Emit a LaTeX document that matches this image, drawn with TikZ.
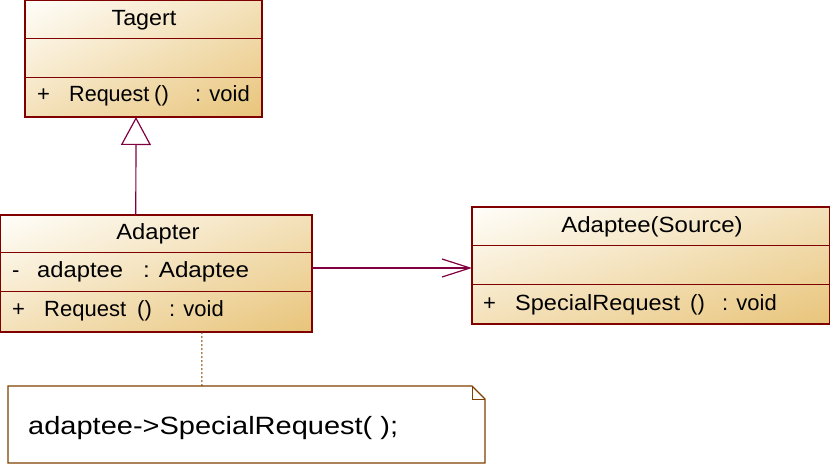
\documentclass[tikz,border=0pt]{standalone}
\usepackage{fontspec}
\setmainfont{Liberation Sans}
\usetikzlibrary{arrows.meta}
\definecolor{cBorder}{RGB}{128,0,0}
\definecolor{cLink}{RGB}{128,0,64}
\definecolor{cNote}{RGB}{128,64,0}
\newcommand{\hstretch}[2]{\scalebox{#1}[1]{#2}}
\pgfdeclarefunctionalshading{classgrad}{\pgfpointorigin}{\pgfpoint{100bp}{100bp}}{}{%
  sub 50 add 100 div
  dup 0 lt {pop 0} if
  dup 1 gt {pop 1} if
  dup -0.090 mul 1.0 add
  exch
  dup -0.227 mul 0.996 add
  exch
  -0.502 mul 0.980 add
}
\begin{document}
\begin{tikzpicture}[x=1pt,y=-1pt,
  classbox/.style={draw=cBorder, line width=1.2pt, shade, shading=classgrad, anchor=north west, inner sep=0pt, outer sep=0pt},
  divider/.style={draw=cBorder, line width=1pt},
  txt/.style={font=\fontsize{22}{26}\selectfont, inner sep=0pt, anchor=base west},
  title/.style={txt, anchor=base},
  gen/.style={draw=cLink, line width=1.2pt, -{Triangle[length=28pt, width=30pt, fill=white]}},
  assoc/.style={draw=cLink, line width=1.2pt, -{Straight Barb[length=28pt, width=18pt]}},
  notelink/.style={draw=cNote, line width=1pt, dash pattern=on 2pt off 2pt},
  notebox/.style={draw=cNote, line width=1.2pt, fill=white},
  notetxt/.style={font=\fontsize{25}{29}\selectfont, inner sep=0pt, anchor=base west}]
\useasboundingbox (0,0) rectangle (832,468);

% Tagert
\node[classbox, minimum width=237pt, minimum height=116.4pt] (tagert) at (25,0.6) {};
\draw[divider] (25,39) -- (262,39);
\draw[divider] (25,77.5) -- (262,77.5);
\node[title] (tagertT) at (144,26) {\hstretch{1.06}{Tagert}};
\node[txt] (tagertO1) at (37,102) {+};
\node[txt] (tagertO2) at (69,102) {\hstretch{0.98}{Request}};
\node[txt] (tagertO3) at (154,102) {()};
\node[txt] (tagertO4) at (195,102) {: void};

% Adapter
\node[classbox, minimum width=311.2pt, minimum height=117pt] (adapter) at (0.8,215) {};
\draw[divider] (0.8,252.5) -- (312,252.5);
\draw[divider] (0.8,291.5) -- (312,291.5);
\node[title] (adapterT) at (158,239) {\hstretch{1.08}{Adapter}};
\node[txt] (adapterA1) at (12,277) {-};
\node[txt] (adapterA2) at (37,277) {\hstretch{1.08}{adaptee}};
\node[txt] (adapterA3) at (143,277) {\hstretch{1.1}{: Adaptee}};
\node[txt] (adapterO1) at (12,316) {+};
\node[txt] (adapterO2) at (44,316) {Request};
\node[txt] (adapterO3) at (137,316) {()};
\node[txt] (adapterO4) at (169,316) {: void};

% Adaptee
\node[classbox, minimum width=357.5pt, minimum height=117pt] (adaptee) at (472,207) {};
\draw[divider] (472,245) -- (829.5,245);
\draw[divider] (472,284.5) -- (829.5,284.5);
\node[title] (adapteeT) at (652,232) {\hstretch{1.09}{Adaptee(Source)}};
\node[txt] (adapteeO1) at (483,310) {+};
\node[txt] (adapteeO2) at (515,310) {\hstretch{1.07}{SpecialRequest}};
\node[txt] (adapteeO3) at (690,310) {()};
\node[txt] (adapteeO4) at (722,310) {: void};

% Note
\node[minimum width=477pt, minimum height=77pt, anchor=north west, inner sep=0pt, outer sep=0pt] (note) at (8,386) {};
\draw[notebox] (note.north west) -- ([xshift=-13pt]note.north east) -- ([yshift=-13pt]note.north east) -- (note.south east) -- (note.south west) -- cycle;
\draw[draw=cNote, line width=1pt] ([xshift=-13pt]note.north east) |- ([yshift=-13pt]note.north east);
\node[notetxt] (noteT) at (28,434) {\hstretch{1.16}{adaptee->SpecialRequest( );}};

% Connectors
\draw[gen] ([xshift=135pt]adapter.north west) -- ([xshift=111pt]tagert.south west);
\draw[assoc] ([yshift=-53pt]adapter.north east) -- ([yshift=-61pt]adaptee.north west);
\draw[notelink] ([xshift=201pt]adapter.south west) -- ([xshift=194pt]note.north west);
\end{tikzpicture}
\end{document}
